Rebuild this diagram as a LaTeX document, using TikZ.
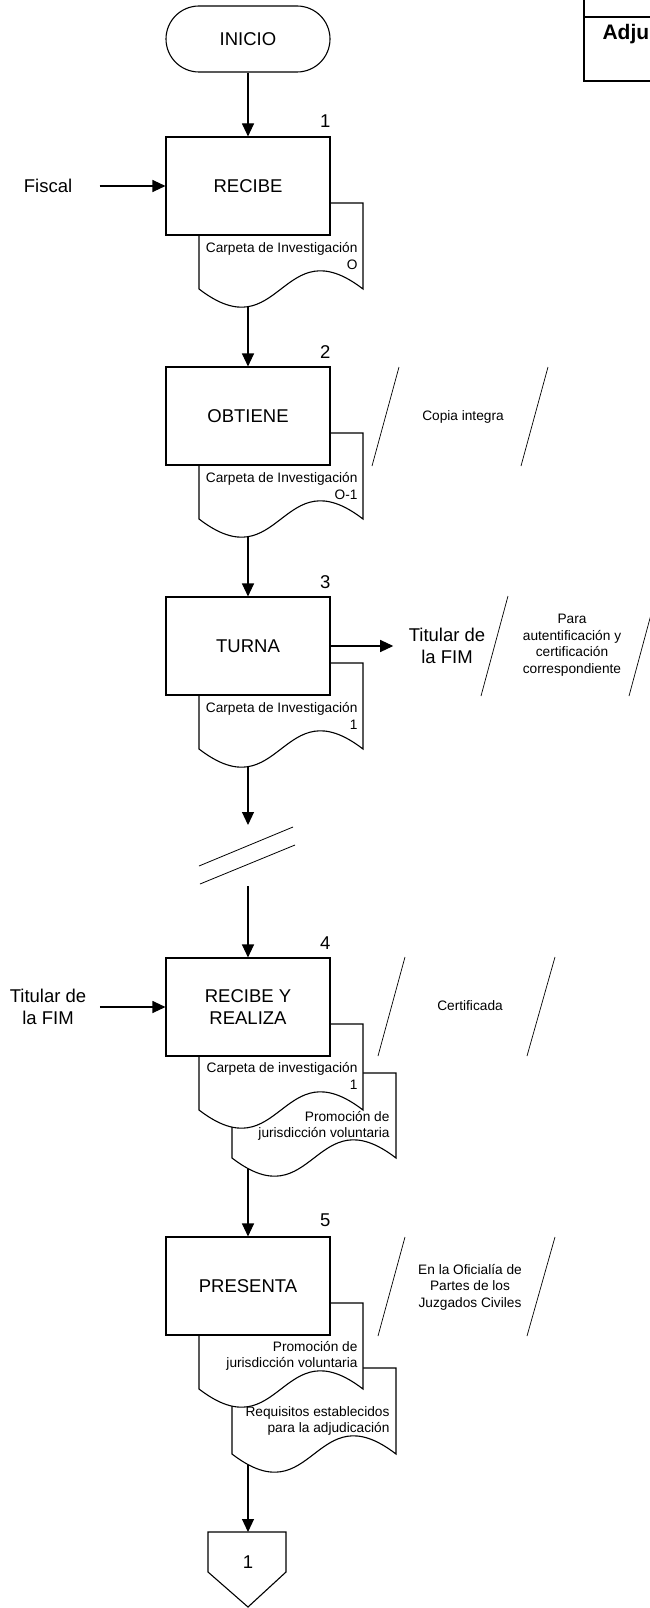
\documentclass[tikz,border=0pt]{standalone}
\usepackage{fontspec}
\setmainfont{Liberation Sans}
\usetikzlibrary{arrows.meta}
\newcommand{\bigtxt}{\fontsize{18.5}{22}\selectfont}
\newcommand{\smalltxt}{\fontsize{13.7}{16.5}\selectfont}
% document outline: left x, top y, bottom y of the sides
\newcommand{\docu}[3]{%
  \draw[fill=white] (#1,#3) -- (#1,#2) -- (#1+164,#2) -- (#1+164,#3)
    .. controls (#1+82,#3-63) and (#1+82,#3+63) .. (#1,#3) -- cycle;}
\begin{document}
\begin{tikzpicture}[x=1pt,y=-1pt,line width=1.1pt,
  proc/.style={draw,fill=white,minimum width=164pt,minimum height=98pt,align=center,font=\bigtxt,inner sep=0pt},
  lbl/.style={align=center,font=\bigtxt,inner sep=0pt},
  num/.style={font=\bigtxt,inner sep=0pt,anchor=base east},
  doctext/.style={align=right,font=\smalltxt,anchor=east,inner sep=0pt},
  note/.style={align=center,font=\smalltxt,inner sep=0pt},
  flow/.style={-{Triangle[length=13pt,width=12pt]}}]
  \useasboundingbox (0,0) rectangle (650,1608);
  \clip (0,0) rectangle (650,1608);

  \draw (584,0) -- (584,81) -- (650,81) (584,17) -- (650,17)[line width=2pt];
  \node[font=\fontsize{21}{25}\selectfont\bfseries,anchor=base west,inner sep=0pt] (adju) at (602,40) {Adju};

  \node[draw,fill=white,rounded corners=33pt,minimum width=164pt,minimum height=66pt,font=\bigtxt] (inicio) at (248,39) {INICIO};

  \docu{199}{203}{289}
  \node[proc] (b1) at (248,186) {RECIBE};
  \node[num] (n1) at (331,128) {1};
  \node[doctext] (c1) at (358,256) {Carpeta de Investigación\\O};
  \node[lbl] (fiscal) at (48,186) {Fiscal};
  \coordinate (w1) at (248,307);

  \docu{199}{433}{519}
  \node[proc] (b2) at (248,416) {OBTIENE};
  \node[num] (n2) at (331,358) {2};
  \node[doctext] (c2) at (358,486) {Carpeta de Investigación\\O-1};
  \coordinate (w2) at (248,537);
  \draw (399,367) -- (372,466) (548,367) -- (521,466)[line width=.7pt];
  \node[note] (copia) at (463,417) {Copia integra};

  \docu{199}{663}{749}
  \node[proc] (b3) at (248,646) {TURNA};
  \node[num] (n3) at (331,588) {3};
  \node[doctext] (c3) at (358,716) {Carpeta de Investigación\\1};
  \coordinate (w3) at (248,767);
  \node[lbl] (fim3) at (447,646) {Titular de\\la FIM};
  \draw (508,596) -- (481,696) (656,596) -- (629,696)[line width=.7pt];
  \node[note] (para) at (572,645) {Para\\autentificación y\\certificación\\correspondiente};

  \coordinate (brk1) at (248,825);
  \draw (199,866) -- (293,827) (200,884) -- (295,845)[line width=.8pt];
  \coordinate (brk2) at (248,886);

  \docu{232}{1073}{1158}
  \docu{199}{1024}{1110}
  \node[proc] (b4) at (248,1007) {RECIBE Y\\REALIZA};
  \node[num] (n4) at (331,949) {4};
  \node[doctext] (c4) at (358,1076) {Carpeta de investigación\\1};
  \node[doctext] (c4b) at (390,1126) {Promoción de\\jurisdicción voluntaria};
  \coordinate (w4) at (248,1169);
  \node[lbl] (fim4) at (48,1007) {Titular de\\la FIM};
  \draw (405,957) -- (378,1056) (555,957) -- (527,1056)[line width=.7pt];
  \node[note] (cert) at (470,1006) {Certificada};

  \docu{232}{1368}{1454}
  \docu{199}{1303}{1389}
  \node[proc] (b5) at (248,1286) {PRESENTA};
  \node[num] (n5) at (331,1226) {5};
  \node[doctext] (c5) at (358,1356) {Promoción de\\jurisdicción voluntaria};
  \node[doctext] (c5b) at (390,1421) {Requisitos establecidos\\para la adjudicación};
  \coordinate (w5) at (248,1465);
  \draw (405,1237) -- (378,1336) (555,1237) -- (527,1336)[line width=.7pt];
  \node[note] (ofic) at (470,1287) {En la Oficialía de\\Partes de los\\Juzgados Civiles};

  \draw[fill=white] (208,1532) -- (286,1532) -- (286,1572) -- (248,1607) -- (208,1572) -- cycle;
  \coordinate (con) at (248,1532);
  \node[lbl] (con1) at (248,1562) {1};

  \draw[flow] (inicio) -- (b1);
  \draw[flow] ([xshift=27pt]fiscal.east) -- (b1.west);
  \draw[flow] (w1) -- (b2);
  \draw[flow] (w2) -- (b3);
  \draw[flow] (b3.east) -- ([xshift=-15pt]fim3.west);
  \draw[flow] (w3) -- (brk1);
  \draw[flow] (brk2) -- (b4);
  \draw[flow] ([xshift=13pt]fim4.east) -- (b4.west);
  \draw[flow] (w4) -- (b5);
  \draw[flow] (w5) -- (con);
\end{tikzpicture}
\end{document}
